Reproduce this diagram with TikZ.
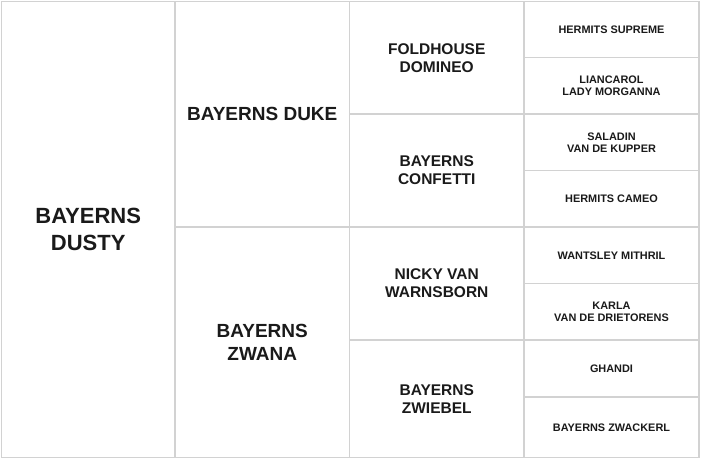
\documentclass[tikz,border=0pt]{standalone}
\usepackage{fontspec}
\setmainfont{Liberation Sans}
\definecolor{gridgray}{HTML}{D2D2D2}
\definecolor{txt}{HTML}{1A1A1A}
\begin{document}
\begin{tikzpicture}[x=1pt,y=-1pt,
  gridline/.style={draw=gridgray, line width=1.6pt},
  lbl/.style={align=center, inner sep=0pt, text=txt},
  gen1/.style={lbl, font=\fontsize{22}{27}\selectfont\bfseries},
  gen2/.style={lbl, font=\fontsize{19}{23}\selectfont\bfseries},
  gen3/.style={lbl, font=\fontsize{15.5}{18}\selectfont\bfseries},
  gen4/.style={lbl, font=\fontsize{10.9}{12}\selectfont\bfseries}]
\useasboundingbox (0,0) rectangle (702,460);
\fill[white] (0,0) rectangle (702,460);
% grid
\draw[gridline] (1.5,1.5) rectangle (699,457.5);
\draw[gridline] (175,1.5) -- (175,457.5);
\draw[gridline] (349.5,1.5) -- (349.5,457.5);
\draw[gridline] (524,1.5) -- (524,457.5);
\draw[gridline] (175,227) -- (524,227);
\draw[gridline] (349.5,114) -- (699,114);
\draw[gridline] (349.5,340) -- (699,340);
\draw[gridline] (524,57.5) -- (699,57.5);
\draw[gridline] (524,170.5) -- (699,170.5);
\draw[gridline] (524,227) -- (699,227);
\draw[gridline] (524,283.5) -- (699,283.5);
\draw[gridline] (524,397) -- (699,397);
% generation 1
\node[gen1] (dusty) at (88.25,229.5) {BAYERNS\\DUSTY};
% generation 2
\node[gen2] (duke) at (262.25,114) {BAYERNS DUKE};
\node[gen2] (zwana) at (262.25,342) {BAYERNS\\ZWANA};
% generation 3
\node[gen3] (foldhouse) at (436.75,57.75) {FOLDHOUSE\\DOMINEO};
\node[gen3] (confetti) at (436.75,170.5) {BAYERNS\\CONFETTI};
\node[gen3] (nicky) at (436.75,283.5) {NICKY VAN\\WARNSBORN};
\node[gen3] (zwiebel) at (436.75,398.75) {BAYERNS\\ZWIEBEL};
% generation 4
\node[gen4] (hermits) at (611.5,29.5) {HERMITS SUPREME};
\node[gen4] (liancarol) at (611.5,85.75) {LIANCAROL\\LADY MORGANNA};
\node[gen4] (saladin) at (611.5,142.25) {SALADIN\\VAN DE KUPPER};
\node[gen4] (cameo) at (611.5,198.75) {HERMITS CAMEO};
\node[gen4] (mithril) at (611.5,255.25) {WANTSLEY MITHRIL};
\node[gen4] (karla) at (611.5,311.75) {KARLA\\VAN DE DRIETORENS};
\node[gen4] (ghandi) at (611.5,368.5) {GHANDI};
\node[gen4] (zwackerl) at (611.5,427.25) {BAYERNS ZWACKERL};
\end{tikzpicture}
\end{document}
